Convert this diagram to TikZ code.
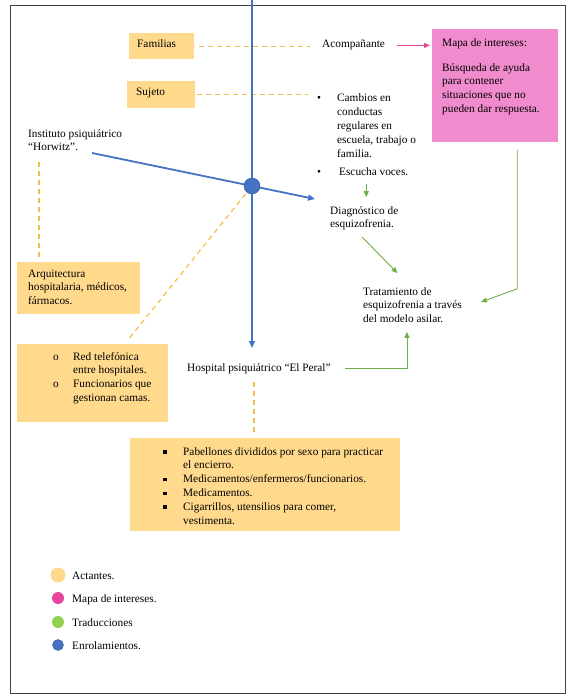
\documentclass[tikz,border=0pt]{standalone}
\usepackage{fontspec}
\setmainfont{Liberation Serif}
\usetikzlibrary{arrows.meta}

\definecolor{actante}{RGB}{255,217,140}
\definecolor{actlinea}{RGB}{243,190,75}
\definecolor{interes}{RGB}{240,140,205}
\definecolor{interesfuerte}{RGB}{232,70,155}
\definecolor{traduccion}{RGB}{112,173,71}
\definecolor{tradley}{RGB}{146,208,80}
\definecolor{enrolamiento}{RGB}{68,114,196}
\definecolor{enrolborde}{RGB}{47,82,143}

\newcommand{\vineta}{\raisebox{1.3pt}{\rule{3.6pt}{3.6pt}}}

\tikzset{
  texto/.style={inner sep=0pt, anchor=base west, font=\fontsize{11.3}{13.8}\selectfont},
  caja/.style={texto, fill=actante, inner xsep=0pt, anchor=north west},
  actdash/.style={actlinea, line width=1.2pt, dash pattern=on 5pt off 4pt},
  enrol/.style={enrolamiento, line width=1.8pt, -{Triangle[length=7pt,width=6pt]}},
  trad/.style={traduccion, line width=0.9pt, -{Triangle[length=6pt,width=5pt]}},
  interesflecha/.style={interesfuerte, line width=1.2pt, -{Triangle[length=6pt,width=5pt]}},
}

\begin{document}
\begin{tikzpicture}[x=1pt, y=-1pt]
% 0. marco
\useasboundingbox (0,0) rectangle (573,698);
\draw[black!75, line width=0.9pt] (10,5) rectangle (565,693);

% 1. puntos importantes
\coordinate (vtop) at (252,0);
\coordinate (vtip) at (252,348);
\coordinate (cruce) at (252,186);
\coordinate (hstart) at (92,153);
\coordinate (htip) at (315,199);

% 2. actantes (cajas)
\node[caja, inner ysep=4.3pt] (fam) at (129,33)
  {\begin{tabular}[t]{@{\hspace{8pt}}p{57pt}@{}}Familias\\[3.5pt]\end{tabular}};
\node[caja, inner ysep=4.3pt] (suj) at (127,81)
  {\begin{tabular}[t]{@{\hspace{9pt}}p{59pt}@{}}Sujeto\\[4.5pt]\end{tabular}};
\node[caja, fill=interes, inner ysep=7.3pt] (mapa) at (432,29)
  {\begin{tabular}[t]{@{\hspace{10pt}}p{116pt}@{}}
   Mapa de intereses:\\[11.2pt]
   Búsqueda de ayuda\\
   para contener\\
   situaciones que no\\
   pueden dar respuesta.\\[17.6pt]
   \end{tabular}};
\node[caja, inner ysep=5.3pt] (arq) at (17,262)
  {\begin{tabular}[t]{@{\hspace{11pt}}p{112pt}@{}}
   Arquitectura\\
   hospitalaria,~médicos,\\
   fármacos.
   \end{tabular}};
\node[caja, inner ysep=6.3pt] (red) at (17,344)
  {\begin{tabular}[t]{@{\hspace{36pt}}p{20pt}@{}p{95pt}@{}}
   o & Red telefónica\\
     & entre hospitales.\\
   o & Funcionarios que\\
     & gestionan camas.\\[9.6pt]
   \end{tabular}};
\node[caja, inner ysep=7.3pt] (pab) at (130,438)
  {\begin{tabular}[t]{@{\hspace{33pt}}p{20pt}@{}p{217pt}@{}}
   \vineta & Pabellones divididos por sexo para practicar\\
           & el encierro.\\
   \vineta & Medicamentos/enfermeros/funcionarios.\\
   \vineta & Medicamentos.\\
   \vineta & Cigarrillos, utensilios para comer,\\
           & vestimenta.\\[-4.4pt]
   \end{tabular}};

% 3. textos sueltos
\node[texto] (horw) at (28,137)
  {\begin{tabular}[t]{@{}l@{}}Instituto psiquiátrico\\“Horwitz”.\end{tabular}};
\node[texto] (acomp) at (322,48) {Acompañante};
\node[texto] (sint) at (317,102)
  {\begin{tabular}[t]{@{}p{20pt}@{}l@{}}
   \textbullet & Cambios en\\
               & conductas\\
               & regulares en\\
               & escuela, trabajo o\\
               & familia.\\[4.2pt]
   \textbullet & \hspace{2pt}Escucha voces.
   \end{tabular}};
\node[texto] (diag) at (330,214)
  {\begin{tabular}[t]{@{}l@{}}Diagnóstico de\\esquizofrenia.\end{tabular}};
\node[texto] (trat) at (363,295)
  {\begin{tabular}[t]{@{}l@{}}Tratamiento de\\esquizofrenia a través\\del modelo asilar.\end{tabular}};
\node[texto] (hosp) at (187,371) {Hospital psiquiátrico “El Peral”};

% 4. lineas de actantes
\draw[actdash, shorten <=5pt, shorten >=12pt] (fam.east) -- (fam.east -| acomp.west);
\draw[actdash, shorten <=2pt, shorten >=9pt] (suj.east) -- (suj.east -| sint.west);
\draw[actdash, shorten <=7pt, shorten >=4pt] ([xshift=11pt]horw.south west) -- ([xshift=11pt]horw.south west |- arq.north);
\draw[actdash, shorten <=10pt, shorten >=4pt] (cruce) -- ([xshift=32pt]red.north);
\draw[actdash, shorten <=8pt, shorten >=6pt] ([xshift=-5pt]hosp.south) -- ([xshift=-5pt]hosp.south |- pab.north);

% 5. mapa de intereses
\draw[interesflecha, shorten <=12pt, shorten >=2pt] (acomp.east) -- (acomp.east -| mapa.west);

% 6. enrolamientos
\draw[enrol] (vtop) -- (vtip);
\draw[enrol] (hstart) -- (cruce) -- (htip);
\node[circle, fill=enrolamiento, draw=enrolborde, minimum size=16pt, inner sep=0pt] (nudo) at (cruce) {};

% 7. traducciones
\draw[trad, shorten <=4pt, shorten >=7pt] ([xshift=2pt]diag.north |- sint.south) -- ([xshift=2pt]diag.north);
\draw[trad] ([xshift=-2pt, yshift=-5pt]diag.south) -- ([xshift=-15pt, yshift=12pt]trat.north);
\draw[trad, shorten <=8pt] ([xshift=22pt]mapa.south) -- ++(0,147) -- ([xshift=19pt, yshift=4pt]trat.east);
\draw[trad, shorten <=14pt, shorten >=5pt] (hosp.east) -| ([xshift=-5.5pt]trat.south);

% 8. leyenda
\foreach \col/\bor/\d/\y/\txt [count=\i] in
    {actante/none/15/575/Actantes.,
     interesfuerte/none/12/598/Mapa de intereses.,
     tradley/none/12/622/Traducciones,
     enrolamiento/enrolborde/11/645/Enrolamientos.}
    {\node[circle, fill=\col, draw=\bor, minimum size=\d pt, inner sep=0pt] (ley\i) at (58,\y) {};
     \node[texto] (leytxt\i) at (72,\y+4) {\txt};
    }
\end{tikzpicture}
\end{document}
